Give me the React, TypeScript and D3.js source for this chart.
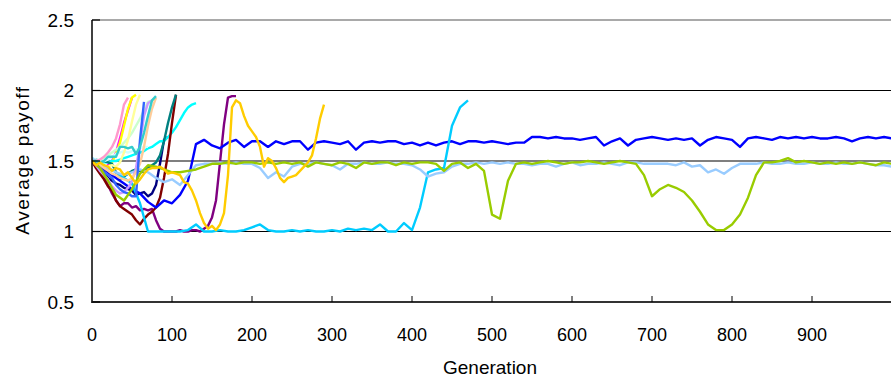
import React from 'react'
import * as d3 from 'd3'

// Excel-style series colours, in drawing order (later on top)
const navy = [1.5, 1.48, 1.45, 1.42, 1.38, 1.36, 1.34, 1.33, 1.31, 1.3, 1.29, 1.26, 1.27, 1.28, 1.25, 1.27, 1.33, 1.48, 1.65, 1.67]
const magenta = [1.5, 1.49, 1.47, 1.45, 1.47, 1.5, 1.56, 1.66, 1.77, 1.86, 1.95]
const yellow = [1.5, 1.48, 1.46, 1.44, 1.45, 1.49, 1.55, 1.63, 1.75, 1.87, 1.95, 1.97]
const cyan = [1.52, 1.5, 1.5, 1.49, 1.49, 1.5, 1.5, 1.51, 1.52, 1.53, 1.54, 1.55, 1.56, 1.57, 1.59, 1.6, 1.62, 1.64, 1.64, 1.67, 1.7, 1.74, 1.79, 1.84, 1.88, 1.9, 1.91]
const purple = [1.5, 1.46, 1.42, 1.38, 1.33, 1.27, 1.22, 1.18, 1.2, 1.2, 1.17, 1.18, 1.15, 1.16, 1.15, 1.16, 1.08, 1.02, 1.0, 1.0, 1.0, 1.0, 1.01, 1.0, 1.0, 1.01, 1.01, 1.0, 1.02, 1.04, 1.1, 1.22, 1.49, 1.76, 1.95, 1.96, 1.96]
const maroon = [1.5, 1.45, 1.41, 1.37, 1.32, 1.29, 1.22, 1.18, 1.16, 1.14, 1.12, 1.08, 1.05, 1.09, 1.12, 1.14, 1.17, 1.24, 1.38, 1.55, 1.77, 1.97]
const teal = [1.5, 1.51, 1.5, 1.5, 1.49, 1.48, 1.42, 1.37, 1.39, 1.41, 1.43, 1.44, 1.43, 1.42, 1.45, 1.47, 1.49, 1.54, 1.64, 1.77, 1.88, 1.97]
const blue = [1.5, 1.47, 1.42, 1.38, 1.34, 1.3, 1.27, 1.21, 1.17, 1.22, 1.2, 1.26, 1.36, 1.62, 1.65, 1.61, 1.59, 1.63, 1.65, 1.6,
  1.64, 1.64, 1.6, 1.64, 1.62, 1.64, 1.64, 1.58, 1.63, 1.64, 1.63, 1.62, 1.64, 1.58, 1.63, 1.64, 1.63, 1.64, 1.64, 1.62,
  1.63, 1.61, 1.63, 1.61, 1.63, 1.64, 1.62, 1.64, 1.64, 1.63, 1.64, 1.63, 1.62, 1.63, 1.63, 1.67, 1.67, 1.66, 1.67, 1.66,
  1.66, 1.65, 1.66, 1.67, 1.61, 1.64, 1.66, 1.61, 1.65, 1.66, 1.67, 1.66, 1.65, 1.66, 1.65, 1.66, 1.61, 1.65, 1.67, 1.66,
  1.65, 1.6, 1.66, 1.67, 1.66, 1.65, 1.67, 1.66, 1.67, 1.66, 1.67, 1.66, 1.66, 1.67, 1.66, 1.64, 1.66, 1.67, 1.66, 1.67, 1.66]
const skyBlue = [1.52, 1.48, 1.45, 1.42, 1.38, 1.34, 1.2, 1.0, 1.0, 1.0, 1.0, 1.0, 1.01, 1.05, 1.0, 1.0, 1.01, 1.0, 1.0, 1.01,
  1.03, 1.05, 1.01, 1.0, 1.0, 1.01, 1.0, 1.01, 1.0, 1.0, 1.01, 1.0, 1.02, 1.01, 1.02, 1.01, 1.05, 1.0, 1.0, 1.06,
  1.01, 1.17, 1.42, 1.44, 1.45, 1.75, 1.88, 1.93]
const lightCyan = [1.52, 1.51, 1.5, 1.5, 1.51, 1.53, 1.55, 1.56, 1.57, 1.56, 1.57, 1.58, 1.59, 1.6, 1.6]
const lightGreen = [1.5, 1.5, 1.51, 1.52, 1.54, 1.56, 1.58, 1.6, 1.63, 1.66, 1.7, 1.75, 1.8, 1.86, 1.92, 1.93, 1.94]
const lightYellow = [1.5, 1.49, 1.47, 1.46, 1.46, 1.47, 1.46, 1.49, 1.56, 1.65, 1.78, 1.9, 1.97]
const paleBlue = [1.52, 1.48, 1.45, 1.42, 1.4, 1.42, 1.44, 1.42, 1.38, 1.35, 1.37, 1.33, 1.4, 1.47, 1.48, 1.48, 1.49, 1.48, 1.49, 1.48,
  1.48, 1.45, 1.38, 1.42, 1.39, 1.46, 1.48, 1.48, 1.49, 1.48, 1.47, 1.44, 1.48, 1.48, 1.49, 1.48, 1.48, 1.49, 1.48, 1.48,
  1.47, 1.44, 1.39, 1.41, 1.42, 1.46, 1.48, 1.48, 1.49, 1.48, 1.49, 1.48, 1.49, 1.48, 1.48, 1.47, 1.48, 1.48, 1.46, 1.48,
  1.49, 1.47, 1.48, 1.48, 1.49, 1.48, 1.47, 1.49, 1.49, 1.48, 1.48, 1.48, 1.48, 1.47, 1.49, 1.46, 1.47, 1.42, 1.44, 1.41,
  1.45, 1.48, 1.48, 1.48, 1.49, 1.48, 1.48, 1.49, 1.48, 1.48, 1.49, 1.48, 1.48, 1.49, 1.48, 1.48, 1.49, 1.48, 1.47, 1.47, 1.46]
const rose = [1.5, 1.5, 1.51, 1.53, 1.56, 1.6, 1.66, 1.76, 1.9, 1.95]
const lavender = [1.5, 1.47, 1.43, 1.4, 1.37, 1.32, 1.29, 1.27, 1.28, 1.31, 1.36, 1.45, 1.62, 1.82, 1.91, 1.93]
const tan = [1.5, 1.49, 1.47, 1.45, 1.43, 1.41, 1.4, 1.38, 1.37, 1.36, 1.38, 1.42, 1.48, 1.6, 1.75, 1.87, 1.95]
const mediumBlue = [1.5, 1.48, 1.45, 1.42, 1.4, 1.38, 1.33, 1.3, 1.28, 1.27, 1.25, 1.25, 1.65, 1.92]
const aqua = [1.5, 1.5, 1.49, 1.5, 1.53, 1.53, 1.53, 1.6, 1.6, 1.59, 1.6, 1.55, 1.6, 1.7, 1.82, 1.93, 1.96]
const lime = [1.5, 1.45, 1.36, 1.26, 1.22, 1.3, 1.41, 1.47, 1.46, 1.44, 1.42, 1.42, 1.43, 1.44, 1.46, 1.48, 1.48, 1.49, 1.48, 1.49,
  1.49, 1.48, 1.49, 1.48, 1.49, 1.48, 1.49, 1.46, 1.49, 1.48, 1.47, 1.49, 1.48, 1.45, 1.49, 1.48, 1.49, 1.49, 1.47, 1.49,
  1.48, 1.49, 1.49, 1.48, 1.43, 1.48, 1.49, 1.45, 1.48, 1.43, 1.12, 1.09, 1.36, 1.48, 1.49, 1.48, 1.49, 1.5, 1.49, 1.48,
  1.49, 1.49, 1.5, 1.49, 1.48, 1.49, 1.5, 1.49, 1.48, 1.4, 1.25, 1.3, 1.33, 1.31, 1.28, 1.22, 1.14, 1.05, 1.01, 1.01,
  1.05, 1.12, 1.24, 1.4, 1.49, 1.49, 1.5, 1.52, 1.49, 1.5, 1.49, 1.48, 1.49, 1.48, 1.49, 1.48, 1.49, 1.48, 1.47, 1.49, 1.48]
const gold = [1.5, 1.47, 1.49, 1.47, 1.46, 1.43, 1.45, 1.44, 1.4, 1.42, 1.38, 1.34, 1.37, 1.41, 1.44, 1.45, 1.45, 1.46, 1.44, 1.41,
  1.42, 1.41, 1.4, 1.35, 1.34, 1.29, 1.22, 1.13, 1.06, 1.02, 1.04, 1.01, 1.05, 1.13, 1.4, 1.88, 1.93, 1.91, 1.82, 1.75,
  1.71, 1.67, 1.6, 1.46, 1.52, 1.5, 1.45, 1.38, 1.35, 1.38, 1.39, 1.4, 1.43, 1.46, 1.49, 1.54, 1.66, 1.8, 1.9]

// [values, generation step, colour]
const series: [number[], number, string][] = [
  [navy, 5, '#000080'],
  [magenta, 5, '#FF00FF'],
  [yellow, 5, '#FFFF00'],
  [cyan, 5, '#00FFFF'],
  [purple, 5, '#800080'],
  [maroon, 5, '#800000'],
  [teal, 5, '#008080'],
  [blue, 10, '#0000FF'],
  [skyBlue, 10, '#00CCFF'],
  [lightCyan, 5, '#CCFFFF'],
  [lightGreen, 5, '#CCFFCC'],
  [lightYellow, 5, '#FFFF99'],
  [paleBlue, 10, '#99CCFF'],
  [rose, 5, '#FF99CC'],
  [lavender, 5, '#CC99FF'],
  [tan, 5, '#FFCC99'],
  [mediumBlue, 5, '#3366FF'],
  [aqua, 5, '#33CCCC'],
  [lime, 10, '#99CC00'],
  [gold, 5, '#FFCC00'],
]

const xTicks = [0, 100, 200, 300, 400, 500, 600, 700, 800, 900]
const yTicks = [0.5, 1, 1.5, 2, 2.5]
const gridValues = [1, 1.5, 2]

const width = 891
const height = 378

export default function App() {
  const x = d3.scaleLinear().domain([0, 1000]).range([92, 892])
  const y = d3.scaleLinear().domain([0.5, 2.5]).range([302, 20])
  const font = "'Liberation Sans', Arial, sans-serif"

  return (
    <svg width={width} height={height} style={{ position: 'absolute', left: 0, top: 0, background: '#fff' }}>
      <defs>
        <clipPath id="plot">
          <rect x={92} y={15} width={width - 92} height={290} />
        </clipPath>
      </defs>
      <rect width={width} height={height} fill="#fff" />
      {gridValues.map(v => (
        <line key={v} x1={92} x2={width} y1={y(v)} y2={y(v)} stroke="#000" strokeWidth={1.2} />
      ))}
      <line x1={92} x2={width} y1={y(2.5)} y2={y(2.5)} stroke="#8c8c8c" strokeWidth={1.5} />
      <g clipPath="url(#plot)">
        {series.map(([vals, step, color], i) => {
          const path = d3.line<number>()
            .x((_, j) => x(j * step))
            .y(d => y(d))(vals)
          return <path key={i} d={path ?? ''} fill="none" stroke={color} strokeWidth={2.4} strokeLinejoin="round" />
        })}
      </g>
      <line x1={92} x2={92} y1={y(2.5)} y2={y(0.5)} stroke="#000" strokeWidth={1.5} />
      <line x1={91} x2={width} y1={y(0.5)} y2={y(0.5)} stroke="#333" strokeWidth={2} />
      {yTicks.map(v => (
        <g key={v}>
          <line x1={92} x2={100} y1={y(v)} y2={y(v)} stroke="#000" strokeWidth={1.2} />
          <text x={74} y={y(v)} dy=".35em" textAnchor="end" fontFamily={font} fontSize={19} fill="#000">{v}</text>
        </g>
      ))}
      {xTicks.map(t => (
        <g key={t}>
          {t > 0 && <line x1={x(t)} x2={x(t)} y1={y(0.5)} y2={y(0.5) - 6} stroke="#000" strokeWidth={1} />}
          <text x={x(t)} y={341} textAnchor="middle" fontFamily={font} fontSize={18} fill="#000">{t}</text>
        </g>
      ))}
      <text x={490} y={374} textAnchor="middle" fontFamily={font} fontSize={19} fill="#000">Generation</text>
      <text transform="translate(29,160) rotate(-90)" textAnchor="middle" fontFamily={font} fontSize={19} letterSpacing={1.6} fill="#000">Average payoff</text>
    </svg>
  )
}
